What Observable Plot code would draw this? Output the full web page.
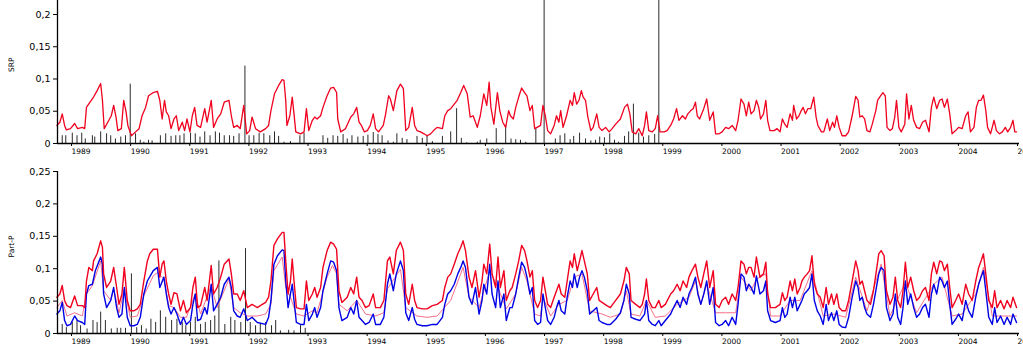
<!DOCTYPE html>
<html><head><meta charset="utf-8">
<script src="https://cdn.jsdelivr.net/npm/d3@7"></script>
<script src="https://cdn.jsdelivr.net/npm/@observablehq/plot@0.6"></script>
<style>
html,body{margin:0;padding:0;background:#fff;overflow:hidden;}
#chart svg{display:block;}
</style></head><body><div id="chart"></div>
<script>
const yearTicks = [1989,1990,1991,1992,1993,1994,1995,1996,1997,1998,1999,2000,2001,2002,2003,2004,2005];
const srpTicks = [0,0.05,0.1,0.15,0.2];
const partTicks = [0,0.05,0.1,0.15,0.2,0.25];

// SRP: modelled (red line) and measured (black spikes)
const srpModel = [[1988.77,.028],[1988.82,.033],[1988.86,.046],[1988.90,.028],[1988.93,.021],[1989.00,.023],[1989.07,.031],[1989.12,.023],[1989.20,.025],[1989.24,.023],[1989.27,.056],[1989.33,.064],[1989.39,.072],[1989.45,.082],[1989.51,.093],[1989.54,.067],[1989.57,.023],[1989.63,.033],[1989.69,.043],[1989.73,.059],[1989.77,.041],[1989.80,.020],[1989.86,.023],[1989.90,.067],[1989.94,.049],[1989.97,.028],[1990.03,.012],[1990.10,.018],[1990.16,.023],[1990.21,.043],[1990.27,.056],[1990.32,.074],[1990.40,.079],[1990.47,.081],[1990.51,.067],[1990.55,.038],[1990.59,.067],[1990.62,.049],[1990.66,.043],[1990.70,.023],[1990.75,.038],[1990.79,.043],[1990.83,.020],[1990.89,.033],[1990.93,.020],[1990.97,.038],[1991.02,.018],[1991.06,.043],[1991.10,.056],[1991.14,.028],[1991.20,.025],[1991.27,.054],[1991.31,.033],[1991.38,.067],[1991.42,.025],[1991.48,.038],[1991.54,.046],[1991.60,.064],[1991.68,.067],[1991.72,.043],[1991.76,.025],[1991.82,.028],[1991.87,.023],[1991.93,.059],[1991.98,.015],[1992.03,.020],[1992.07,.041],[1992.13,.023],[1992.21,.018],
[1992.30,.023],[1992.35,.028],[1992.39,.051],[1992.45,.077],[1992.52,.090],[1992.58,.099],[1992.61,.098],[1992.64,.067],[1992.66,.028],[1992.71,.043],[1992.75,.072],[1992.78,.046],[1992.81,.018],[1992.89,.015],[1992.95,.018],[1992.99,.054],[1993.03,.020],[1993.09,.036],[1993.13,.041],[1993.17,.038],[1993.23,.043],[1993.27,.056],[1993.34,.074],[1993.40,.086],[1993.45,.087],[1993.50,.079],[1993.52,.038],[1993.57,.018],[1993.65,.023],[1993.74,.041],[1993.79,.046],[1993.84,.056],[1993.88,.033],[1993.92,.028],[1993.97,.018],[1994.02,.020],[1994.07,.028],[1994.12,.046],[1994.16,.023],[1994.21,.018],[1994.29,.028],[1994.33,.046],[1994.38,.074],[1994.41,.069],[1994.46,.051],[1994.52,.082],[1994.58,.092],[1994.63,.085],[1994.67,.020],[1994.72,.025],[1994.78,.056],[1994.82,.028],[1994.86,.020],[1994.92,.018],[1994.98,.015],[1995.03,.012],[1995.09,.015],[1995.14,.020],[1995.20,.025],[1995.29,.023],[1995.33,.043],[1995.38,.051],[1995.43,.054],[1995.49,.061],[1995.54,.067],[1995.60,.079],[1995.65,.090],[1995.71,.077],[1995.76,.041],[1995.81,.043],[1995.88,.025],[1995.93,.043],[1995.99,.077],[1996.04,.059],[1996.08,.095],[1996.11,.056],[1996.16,.030],[1996.22,.079],[1996.26,.051],[1996.31,.033],[1996.36,.025],[1996.41,.051],
[1996.44,.043],[1996.49,.038],[1996.53,.056],[1996.58,.072],[1996.63,.086],[1996.68,.079],[1996.72,.074],[1996.77,.051],[1996.81,.059],[1996.85,.023],[1996.89,.025],[1996.95,.028],[1996.99,.059],[1997.03,.043],[1997.07,.020],[1997.12,.015],[1997.18,.028],[1997.22,.043],[1997.26,.033],[1997.29,.051],[1997.33,.025],[1997.39,.043],[1997.45,.067],[1997.49,.059],[1997.52,.079],[1997.56,.061],[1997.60,.067],[1997.64,.082],[1997.67,.072],[1997.71,.067],[1997.75,.041],[1997.80,.020],[1997.84,.025],[1997.90,.046],[1997.94,.025],[1997.99,.020],[1998.05,.025],[1998.11,.018],[1998.16,.023],[1998.22,.030],[1998.30,.038],[1998.37,.056],[1998.42,.061],[1998.46,.046],[1998.50,.018],[1998.56,.015],[1998.61,.023],[1998.67,.012],[1998.71,.028],[1998.74,.049],[1998.78,.020],[1998.84,.018],[1998.89,.023],[1998.93,.043],[1998.97,.018],[1999.04,.018],[1999.09,.020],[1999.15,.028],[1999.20,.038],[1999.25,.054],[1999.29,.036],[1999.35,.043],[1999.40,.038],[1999.44,.046],[1999.49,.051],[1999.53,.054],[1999.57,.064],[1999.60,.043],[1999.64,.038],[1999.71,.054],[1999.76,.069],[1999.81,.036],[1999.87,.049],[1999.91,.015],[1999.97,.015],[2000.02,.018],[2000.08,.025],[2000.13,.023],[2000.19,.028],[2000.25,.020],[2000.29,.036],[2000.34,.069],[2000.39,.061],[2000.43,.043],[2000.47,.064],[2000.51,.046],[2000.56,.051],[2000.60,.067],[2000.64,.056],
[2000.67,.038],[2000.72,.046],[2000.76,.067],[2000.79,.036],[2000.83,.020],[2000.90,.020],[2000.95,.023],[2001.00,.018],[2001.04,.038],[2001.08,.030],[2001.12,.025],[2001.17,.046],[2001.21,.036],[2001.23,.059],[2001.28,.038],[2001.32,.043],[2001.36,.051],[2001.39,.056],[2001.43,.046],[2001.47,.054],[2001.52,.054],[2001.57,.072],[2001.61,.041],[2001.64,.028],[2001.70,.018],[2001.74,.018],[2001.80,.038],[2001.84,.020],[2001.89,.033],[2001.92,.025],[2001.96,.043],[2002.00,.025],[2002.05,.012],[2002.11,.012],[2002.16,.018],[2002.22,.043],[2002.28,.073],[2002.32,.067],[2002.35,.041],[2002.39,.043],[2002.43,.038],[2002.47,.020],[2002.52,.018],[2002.56,.030],[2002.62,.051],[2002.65,.067],[2002.70,.074],[2002.74,.079],[2002.78,.074],[2002.81,.025],[2002.86,.020],[2002.90,.023],[2002.94,.041],[2002.97,.067],[2003.01,.025],[2003.05,.018],[2003.11,.030],[2003.14,.077],[2003.18,.038],[2003.22,.059],[2003.26,.036],[2003.31,.025],[2003.36,.023],[2003.41,.033],[2003.46,.036],[2003.52,.018],[2003.56,.056],[2003.60,.072],[2003.65,.054],[2003.70,.067],[2003.74,.069],[2003.78,.056],[2003.83,.069],[2003.87,.046],[2003.91,.015],[2003.97,.020],[2004.02,.025],[2004.08,.023],[2004.14,.043],[2004.18,.049],[2004.22,.018],[2004.28,.025],[2004.32,.056],[2004.36,.067],[2004.40,.067],[2004.44,.075],[2004.48,.051],[2004.51,.025],[2004.56,.015],[2004.62,.036],[2004.66,.020],[2004.71,.015],[2004.76,.018],[2004.81,.025],[2004.85,.018],[2004.90,.025],[2004.94,.036],[2004.97,.018],[2005.00,.018]];

const srpObs = [[1988.86,.012],[1988.92,.012],[1989.03,.016],[1989.11,.012],[1989.19,.016],[1989.25,.007],[1989.37,.012],[1989.41,.010],[1989.51,.018],[1989.61,.015],[1989.68,.012],[1989.76,.007],[1989.85,.010],[1989.93,.012],[1990.01,.092],[1990.10,.015],[1990.18,.005],[1990.24,.002],[1990.32,.005],[1990.38,.004],[1990.52,.012],[1990.61,.015],[1990.70,.011],[1990.78,.012],[1990.85,.012],[1990.92,.015],[1991.03,.016],[1991.11,.015],[1991.19,.010],[1991.27,.018],[1991.36,.012],[1991.45,.018],[1991.52,.016],[1991.60,.012],[1991.69,.012],[1991.76,.011],[1991.85,.015],[1991.95,.120],[1992.02,.012],[1992.10,.012],[1992.19,.016],
[1992.27,.015],[1992.37,.012],[1992.45,.018],[1992.52,.011],[1992.61,.002],[1992.72,.003],[1992.88,.012],[1992.95,.016],[1993.27,.012],[1993.35,.008],[1993.44,.012],[1993.52,.011],[1993.61,.014],[1993.68,.007],[1993.76,.012],[1993.86,.010],[1993.95,.011],[1994.03,.013],[1994.12,.017],[1994.20,.014],[1994.27,.012],[1994.37,.004],[1994.46,.002],[1994.52,.015],[1994.61,.008],[1994.69,.006],[1994.86,.011],[1994.95,.008],[1995.03,.012],[1995.12,.003],[1995.29,.011],[1995.43,.018],[1995.53,.054],[1995.61,.008],[1995.70,.001],[1995.88,.002],[1995.93,.005],[1996.04,.007],[1996.20,.023],[1996.36,.028],
[1996.45,.007],[1996.53,.006],[1996.61,.005],[1996.70,.002],[1996.87,.023],[1997.01,.3],[1997.20,.007],[1997.28,.012],[1997.36,.015],[1997.45,.006],[1997.51,.011],[1997.61,.016],[1997.71,.007],[1997.80,.004],[1997.88,.005],[1997.95,.010],[1998.03,.009],[1998.12,.015],[1998.20,.005],[1998.27,.002],[1998.37,.011],[1998.44,.018],[1998.52,.061],[1998.61,.016],[1998.69,.010],[1998.78,.012],[1998.88,.014],[1998.95,.3]];

// Part-P: measured spikes, modelled red, blue and thin pink lines
const partObs = [[1988.86,.014],[1988.93,.009],[1989.03,.017],[1989.11,.020],[1989.17,.012],[1989.28,.007],[1989.38,.020],[1989.45,.017],[1989.51,.033],[1989.59,.020],[1989.69,.007],[1989.79,.008],[1989.85,.008],[1989.93,.008],[1990.03,.092],[1990.12,.009],[1990.20,.012],[1990.28,.007],[1990.36,.022],[1990.44,.017],[1990.52,.035],[1990.61,.025],[1990.71,.020],[1990.80,.022],[1990.89,.017],[1990.95,.012],[1991.03,.017],[1991.11,.025],[1991.20,.014],[1991.28,.017],[1991.37,.020],[1991.44,.027],[1991.51,.112],[1991.61,.014],[1991.71,.025],[1991.78,.020],[1991.88,.017],[1991.96,.131],[1992.04,.017],[1992.13,.012],[1992.21,.014],[1992.30,.017],[1992.40,.012],[1992.47,.020],[1992.55,.004],[1992.69,.005],[1992.78,.004],[1992.89,.012],[1992.97,.008]];

const partRed = [[1988.77,.056],[1988.82,.061],[1988.86,.074],[1988.90,.051],[1988.94,.043],[1989.00,.040],[1989.07,.058],[1989.12,.043],[1989.20,.043],[1989.24,.040],[1989.27,.081],[1989.31,.102],[1989.37,.097],[1989.39,.112],[1989.45,.123],[1989.51,.143],[1989.54,.133],[1989.56,.092],[1989.61,.071],[1989.68,.081],[1989.73,.102],[1989.78,.071],[1989.82,.045],[1989.87,.061],[1989.91,.102],[1989.96,.051],[1990.01,.035],[1990.07,.035],[1990.13,.038],[1990.18,.045],[1990.24,.081],[1990.30,.112],[1990.34,.123],[1990.40,.130],[1990.47,.130],[1990.51,.087],[1990.55,.107],[1990.58,.112],[1990.62,.081],[1990.66,.061],[1990.70,.045],[1990.75,.063],[1990.80,.061],[1990.86,.035],[1990.91,.051],[1990.96,.032],[1991.03,.040],[1991.07,.071],[1991.11,.087],[1991.15,.040],[1991.20,.043],[1991.27,.071],[1991.31,.051],[1991.38,.105],[1991.42,.061],[1991.48,.071],[1991.54,.087],[1991.60,.107],[1991.68,.115],[1991.72,.092],[1991.76,.061],[1991.82,.061],[1991.87,.051],[1991.93,.066],[1991.99,.040],[1992.07,.045],[1992.16,.040],[1992.21,.043],
[1992.30,.048],[1992.35,.056],[1992.39,.081],[1992.44,.136],[1992.50,.146],[1992.58,.156],[1992.61,.156],[1992.64,.112],[1992.68,.061],[1992.72,.081],[1992.75,.115],[1992.78,.081],[1992.82,.040],[1992.89,.038],[1992.95,.038],[1992.99,.081],[1993.03,.051],[1993.09,.061],[1993.13,.071],[1993.17,.056],[1993.23,.071],[1993.27,.102],[1993.34,.128],[1993.40,.141],[1993.45,.138],[1993.50,.130],[1993.54,.066],[1993.59,.048],[1993.68,.056],[1993.74,.071],[1993.79,.061],[1993.84,.087],[1993.88,.056],[1993.93,.051],[1993.99,.040],[1994.05,.043],[1994.12,.061],[1994.16,.040],[1994.24,.040],[1994.30,.051],[1994.36,.112],[1994.40,.118],[1994.46,.092],[1994.51,.128],[1994.58,.141],[1994.63,.128],[1994.67,.061],[1994.72,.045],[1994.78,.076],[1994.82,.051],[1994.86,.040],[1994.95,.038],[1995.03,.038],[1995.12,.043],[1995.20,.045],[1995.29,.051],[1995.33,.071],[1995.38,.087],[1995.43,.092],[1995.49,.107],[1995.55,.123],[1995.60,.133],[1995.64,.143],[1995.68,.128],[1995.74,.087],[1995.79,.071],[1995.85,.097],[1995.91,.056],[1995.96,.081],[1995.99,.107],[1996.04,.092],[1996.09,.138],[1996.13,.092],[1996.19,.071],[1996.23,.118],[1996.27,.071],[1996.33,.097],[1996.37,.051],[1996.43,.066],
[1996.47,.071],[1996.53,.092],[1996.58,.112],[1996.63,.136],[1996.68,.128],[1996.72,.112],[1996.77,.087],[1996.81,.097],[1996.85,.051],[1996.90,.040],[1996.95,.051],[1996.99,.087],[1997.03,.066],[1997.07,.045],[1997.12,.040],[1997.18,.056],[1997.22,.066],[1997.26,.076],[1997.30,.061],[1997.36,.056],[1997.40,.081],[1997.45,.112],[1997.49,.102],[1997.52,.123],[1997.57,.097],[1997.61,.112],[1997.65,.128],[1997.69,.112],[1997.74,.092],[1997.78,.051],[1997.84,.061],[1997.90,.071],[1997.94,.051],[1997.99,.048],[1998.07,.043],[1998.13,.040],[1998.22,.051],[1998.30,.061],[1998.36,.081],[1998.40,.102],[1998.45,.092],[1998.48,.051],[1998.56,.045],[1998.63,.040],[1998.67,.045],[1998.71,.061],[1998.74,.084],[1998.78,.051],[1998.84,.040],[1998.89,.040],[1998.95,.051],[1998.99,.040],[1999.06,.045],[1999.15,.061],[1999.20,.066],[1999.26,.076],[1999.31,.066],[1999.36,.081],[1999.42,.071],[1999.46,.087],[1999.51,.097],[1999.57,.107],[1999.61,.087],[1999.66,.071],[1999.71,.092],[1999.76,.112],[1999.81,.071],[1999.87,.097],[1999.91,.045],[1999.97,.040],[2000.02,.051],[2000.08,.056],[2000.13,.045],[2000.19,.061],[2000.25,.051],[2000.29,.071],[2000.34,.112],[2000.39,.107],[2000.43,.092],[2000.47,.102],[2000.51,.102],[2000.56,.087],[2000.60,.118],[2000.66,.087],
[2000.72,.092],[2000.76,.110],[2000.79,.061],[2000.84,.040],[2000.92,.040],[2001.00,.045],[2001.04,.063],[2001.08,.051],[2001.12,.056],[2001.17,.081],[2001.21,.066],[2001.25,.084],[2001.29,.061],[2001.34,.071],[2001.37,.081],[2001.41,.087],[2001.46,.092],[2001.50,.097],[2001.54,.120],[2001.58,.076],[2001.63,.061],[2001.68,.056],[2001.73,.040],[2001.78,.071],[2001.82,.045],[2001.87,.061],[2001.91,.045],[2001.96,.061],[2002.00,.040],[2002.05,.035],[2002.11,.035],[2002.16,.051],[2002.22,.081],[2002.28,.112],[2002.32,.097],[2002.35,.076],[2002.39,.081],[2002.43,.066],[2002.47,.051],[2002.53,.045],[2002.58,.066],[2002.63,.097],[2002.67,.123],[2002.71,.128],[2002.76,.120],[2002.80,.066],[2002.86,.045],[2002.91,.056],[2002.95,.087],[2002.99,.051],[2003.04,.040],[2003.08,.066],[2003.12,.110],[2003.16,.071],[2003.21,.087],[2003.26,.066],[2003.31,.051],[2003.36,.056],[2003.41,.066],[2003.46,.071],[2003.52,.051],[2003.56,.092],[2003.60,.110],[2003.65,.092],[2003.70,.112],[2003.74,.110],[2003.78,.097],[2003.83,.107],[2003.87,.071],[2003.91,.040],[2003.97,.051],[2004.02,.061],[2004.08,.045],[2004.14,.076],[2004.19,.061],[2004.25,.051],[2004.31,.081],[2004.36,.102],[2004.40,.112],[2004.44,.123],[2004.48,.092],[2004.53,.051],[2004.59,.040],[2004.63,.066],[2004.67,.040],[2004.73,.051],[2004.79,.038],[2004.84,.051],[2004.90,.040],[2004.94,.056],[2005.00,.040]];

const partBlue = [[1988.77,.030],[1988.82,.035],[1988.86,.048],[1988.90,.020],[1988.94,.012],[1989.00,.014],[1989.07,.027],[1989.12,.020],[1989.20,.017],[1989.24,.014],[1989.27,.061],[1989.31,.074],[1989.37,.076],[1989.42,.097],[1989.51,.118],[1989.54,.107],[1989.56,.061],[1989.61,.040],[1989.68,.051],[1989.73,.071],[1989.78,.040],[1989.82,.025],[1989.87,.030],[1989.91,.071],[1989.96,.025],[1990.01,.012],[1990.07,.012],[1990.13,.014],[1990.18,.025],[1990.24,.061],[1990.30,.081],[1990.40,.097],[1990.47,.102],[1990.51,.071],[1990.58,.087],[1990.62,.061],[1990.66,.040],[1990.70,.030],[1990.75,.040],[1990.80,.030],[1990.86,.014],[1990.91,.025],[1990.96,.014],[1991.03,.020],[1991.07,.045],[1991.11,.061],[1991.15,.020],[1991.20,.022],[1991.27,.040],[1991.31,.030],[1991.38,.076],[1991.42,.035],[1991.48,.045],[1991.54,.056],[1991.60,.076],[1991.68,.087],[1991.72,.071],[1991.76,.035],[1991.82,.027],[1991.87,.025],[1991.93,.038],[1991.99,.020],[1992.07,.025],[1992.16,.017],
[1992.30,.014],[1992.35,.025],[1992.39,.051],[1992.44,.107],[1992.50,.120],[1992.58,.129],[1992.61,.128],[1992.64,.081],[1992.68,.040],[1992.72,.061],[1992.75,.076],[1992.78,.051],[1992.82,.017],[1992.89,.014],[1992.95,.014],[1992.99,.045],[1993.03,.020],[1993.09,.030],[1993.13,.040],[1993.17,.025],[1993.23,.040],[1993.27,.066],[1993.34,.092],[1993.40,.112],[1993.45,.110],[1993.50,.097],[1993.54,.040],[1993.59,.020],[1993.68,.025],[1993.74,.040],[1993.79,.030],[1993.84,.051],[1993.88,.025],[1993.93,.020],[1993.99,.014],[1994.05,.017],[1994.12,.030],[1994.16,.014],[1994.24,.014],[1994.30,.025],[1994.36,.076],[1994.40,.092],[1994.46,.066],[1994.51,.092],[1994.58,.112],[1994.63,.097],[1994.67,.032],[1994.72,.020],[1994.78,.040],[1994.82,.022],[1994.86,.014],[1994.95,.012],[1995.03,.012],[1995.12,.014],[1995.20,.014],[1995.29,.025],[1995.33,.045],[1995.38,.061],[1995.43,.066],[1995.49,.076],[1995.55,.092],[1995.60,.102],[1995.64,.112],[1995.68,.102],[1995.74,.056],[1995.79,.045],[1995.85,.071],[1995.91,.030],[1995.96,.051],[1995.99,.076],[1996.04,.061],[1996.09,.107],[1996.13,.061],[1996.19,.040],[1996.23,.081],[1996.27,.040],[1996.33,.061],[1996.37,.020],[1996.43,.040],
[1996.47,.040],[1996.53,.061],[1996.58,.087],[1996.63,.110],[1996.68,.102],[1996.72,.087],[1996.77,.061],[1996.81,.071],[1996.85,.020],[1996.90,.014],[1996.95,.017],[1996.99,.061],[1997.03,.040],[1997.07,.020],[1997.12,.014],[1997.18,.025],[1997.22,.040],[1997.26,.051],[1997.30,.035],[1997.36,.030],[1997.40,.056],[1997.45,.081],[1997.49,.071],[1997.52,.092],[1997.57,.071],[1997.61,.087],[1997.65,.097],[1997.69,.087],[1997.74,.066],[1997.78,.030],[1997.84,.035],[1997.90,.040],[1997.94,.020],[1997.99,.017],[1998.07,.014],[1998.13,.014],[1998.22,.022],[1998.30,.032],[1998.36,.051],[1998.40,.076],[1998.45,.061],[1998.48,.025],[1998.56,.022],[1998.63,.020],[1998.67,.025],[1998.71,.030],[1998.74,.051],[1998.78,.020],[1998.84,.014],[1998.89,.012],[1998.95,.020],[1998.99,.012],[1999.06,.020],[1999.15,.030],[1999.20,.040],[1999.26,.051],[1999.31,.040],[1999.36,.056],[1999.42,.045],[1999.46,.061],[1999.51,.071],[1999.57,.087],[1999.61,.061],[1999.66,.045],[1999.71,.061],[1999.76,.081],[1999.81,.045],[1999.87,.071],[1999.91,.017],[1999.97,.012],[2000.02,.014],[2000.08,.020],[2000.13,.012],[2000.19,.025],[2000.25,.014],[2000.29,.045],[2000.34,.092],[2000.39,.087],[2000.43,.066],[2000.47,.076],[2000.51,.071],[2000.56,.061],[2000.60,.089],[2000.66,.061],
[2000.72,.066],[2000.76,.081],[2000.79,.035],[2000.84,.020],[2000.92,.017],[2001.00,.020],[2001.04,.040],[2001.08,.025],[2001.12,.030],[2001.17,.056],[2001.21,.040],[2001.25,.056],[2001.29,.035],[2001.34,.045],[2001.37,.051],[2001.41,.061],[2001.46,.066],[2001.50,.071],[2001.54,.092],[2001.58,.051],[2001.63,.035],[2001.68,.027],[2001.73,.014],[2001.78,.045],[2001.82,.020],[2001.87,.032],[2001.91,.020],[2001.96,.035],[2002.00,.014],[2002.05,.010],[2002.11,.009],[2002.16,.025],[2002.22,.056],[2002.28,.081],[2002.32,.071],[2002.35,.051],[2002.39,.056],[2002.43,.040],[2002.47,.030],[2002.53,.025],[2002.58,.045],[2002.63,.071],[2002.67,.092],[2002.71,.102],[2002.76,.097],[2002.80,.040],[2002.86,.020],[2002.91,.030],[2002.95,.061],[2002.99,.025],[2003.04,.014],[2003.08,.040],[2003.12,.081],[2003.16,.045],[2003.21,.061],[2003.26,.040],[2003.31,.025],[2003.36,.030],[2003.41,.040],[2003.46,.045],[2003.52,.025],[2003.56,.061],[2003.60,.076],[2003.65,.061],[2003.70,.087],[2003.74,.081],[2003.78,.071],[2003.83,.081],[2003.87,.045],[2003.91,.014],[2003.97,.022],[2004.02,.030],[2004.08,.020],[2004.14,.051],[2004.19,.035],[2004.25,.025],[2004.31,.056],[2004.36,.076],[2004.40,.087],[2004.44,.097],[2004.48,.066],[2004.53,.025],[2004.59,.014],[2004.63,.040],[2004.67,.017],[2004.73,.027],[2004.79,.014],[2004.84,.025],[2004.90,.014],[2004.94,.030],[2005.00,.017]];

const partPink = [[1988.77,.040],[1988.86,.051],[1988.94,.027],[1989.07,.032],[1989.20,.027],[1989.27,.061],[1989.37,.074],[1989.51,.112],[1989.56,.066],[1989.68,.051],[1989.73,.069],[1989.82,.032],[1989.91,.069],[1990.01,.025],[1990.13,.027],[1990.24,.058],[1990.40,.089],[1990.47,.094],[1990.58,.084],[1990.66,.043],[1990.75,.040],[1990.86,.025],[1990.96,.025],[1991.11,.061],[1991.20,.030],[1991.38,.074],[1991.48,.040],[1991.68,.084],[1991.76,.040],[1991.87,.032],[1991.99,.027],[1992.16,.027],
[1992.30,.030],[1992.39,.045],[1992.44,.097],[1992.58,.118],[1992.64,.071],[1992.72,.056],[1992.82,.030],[1992.95,.027],[1993.09,.035],[1993.17,.032],[1993.34,.087],[1993.43,.105],[1993.50,.092],[1993.54,.045],[1993.68,.035],[1993.84,.051],[1993.99,.030],[1994.16,.027],[1994.30,.032],[1994.36,.069],[1994.58,.099],[1994.67,.040],[1994.86,.027],[1995.03,.025],[1995.20,.027],[1995.43,.051],[1995.64,.102],[1995.74,.056],[1995.91,.040],[1996.09,.097],[1996.23,.071],[1996.37,.038],
[1996.53,.061],[1996.63,.102],[1996.72,.081],[1996.85,.030],[1996.95,.027],[1996.99,.056],[1997.12,.027],[1997.26,.045],[1997.40,.051],[1997.52,.087],[1997.65,.092],[1997.78,.035],[1997.99,.030],[1998.13,.025],[1998.30,.030],[1998.40,.066],[1998.48,.030],[1998.63,.027],[1998.74,.051],[1998.89,.025],[1999.06,.027],[1999.26,.045],[1999.46,.056],[1999.57,.081],[1999.66,.045],[1999.76,.076],[1999.91,.032],[2000.08,.032],[2000.25,.032],[2000.34,.087],[2000.51,.066],[2000.60,.084],
[2000.76,.092],[2000.84,.027],[2001.00,.027],[2001.17,.051],[2001.34,.051],[2001.54,.097],[2001.73,.027],[2001.91,.030],[2002.11,.025],[2002.28,.087],[2002.47,.035],[2002.71,.107],[2002.86,.027],[2003.12,.079],[2003.31,.032],[2003.60,.076],[2003.74,.087],[2003.91,.027],[2004.08,.030],[2004.31,.061],[2004.44,.102],[2004.59,.027],[2004.79,.027],[2005.00,.027]];

const xDomain = [1988.78, 2005.05];
const commaFmt = d => String(d).replace(".", ",");
const RED = "#f0001e", BLUE = "#0000e6", PINK = "#f4607c", SPIKE = "#2a2a2a";

function panel({height, marginTop, marginBottom, yMax, ticks, label, labelDy, lines, obs}) {
  return Plot.plot({
    width: 1023, height, marginLeft: 57, marginRight: 4, marginTop, marginBottom,
    style: {fontFamily: "'DejaVu Sans', Verdana, sans-serif", color: "#000", background: "#fff", overflow: "hidden"},
    x: {domain: xDomain},
    y: {domain: [0, yMax], clamp: true},
    marks: [
      Plot.ruleX(obs, {x: d => d[0], y1: 0, y2: d => d[1], stroke: SPIKE, strokeWidth: 1}),
      ...lines.map(s => Plot.line(s.data, {x: d => d[0], y: d => d[1], stroke: s.color, strokeWidth: s.width})),
      Plot.ruleX([xDomain[0]], {stroke: "#000", strokeWidth: 1.3}),
      Plot.ruleY([0], {stroke: "#000", strokeWidth: 1.3}),
      Plot.axisY({ticks, tickFormat: commaFmt, tickSize: 4, tickPadding: 3, fontSize: 9.5, label: null}),
      Plot.axisX({ticks: yearTicks, tickFormat: d => String(d), tickSize: 3, tickPadding: 2, fontSize: 7.5, textAnchor: "start", dx: 1, label: null}),
      Plot.text([label], {frameAnchor: "left", dx: -46, dy: labelDy, rotate: -90, fontSize: 7.5, text: d => d})
    ]
  });
}

const srpChart = panel({height: 158, marginTop: 0, marginBottom: 15, yMax: 0.2217, ticks: srpTicks, label: "SRP", labelDy: 0,
  lines: [{data: srpModel, color: RED, width: 1.3}], obs: srpObs});
const partChart = panel({height: 195, marginTop: 13, marginBottom: 20, yMax: 0.25, ticks: partTicks, label: "Part-P", labelDy: 5,
  lines: [{data: partPink, color: PINK, width: 0.9}, {data: partBlue, color: BLUE, width: 1.4}, {data: partRed, color: RED, width: 1.4}], obs: partObs});
document.getElementById("chart").append(srpChart, partChart);
</script></body></html>
